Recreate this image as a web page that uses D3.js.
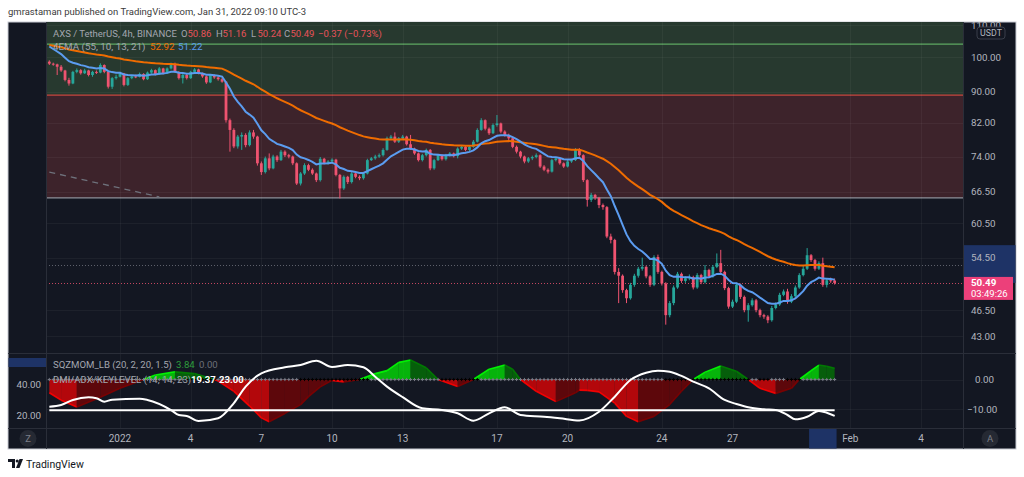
<!DOCTYPE html>
<html lang="en">
<head>
<meta charset="UTF-8">
<title>AXS / TetherUS 4h</title>
<script src="https://d3js.org/d3.v7.min.js"></script>
<style>
  body { margin: 0; background: #fff; }
  svg text { font-family: Roboto, "Noto Sans", sans-serif; }
</style>
</head>
<body>
<script>
// ---- data ----
const firstCandle = "2021-12-29T00:00:00Z";   // 4h candles from here
const firstOpen = 98.6;
const closes = [
  98.0, 97.8, 97.1, 96.0, 93.3, 92.3, 95.6, 96.1, 95.2, 96.0,
  94.7, 95.6, 95.4, 97.6, 95.6, 91.4, 93.8, 94.2, 95.2, 91.9,
  93.8, 94.3, 94.2, 95.0, 93.5, 95.4, 96.1, 94.9, 96.6, 95.2,
  96.6, 97.6, 95.6, 93.8, 94.7, 93.8, 95.6, 96.3, 95.2, 94.3,
  92.6, 94.7, 94.0, 93.5, 92.8, 82.6, 80.2, 76.3, 78.6, 79.0,
  76.6, 79.6, 78.6, 72.5, 70.6, 73.6, 71.4, 74.0, 73.2, 75.1,
  74.3, 74.0, 72.5, 68.2, 70.3, 72.1, 71.1, 70.3, 68.9, 73.5,
  72.6, 72.9, 73.3, 70.0, 67.2, 69.6, 68.5, 70.3, 69.6, 69.3,
  70.3, 73.2, 73.6, 74.0, 74.3, 75.5, 78.2, 78.6, 77.4, 78.2,
  78.6, 76.8, 75.8, 74.7, 73.2, 74.3, 75.5, 71.4, 73.2, 74.3,
  73.4, 74.3, 74.7, 74.1, 75.8, 76.2, 75.5, 76.2, 77.4, 80.2,
  82.6, 80.5, 79.4, 81.4, 81.8, 79.8, 79.0, 78.2, 76.2, 75.1,
  74.0, 72.9, 73.6, 73.9, 74.3, 71.8, 71.1, 70.7, 73.2, 73.6,
  72.5, 71.8, 72.9, 73.2, 75.5, 74.3, 68.9, 64.9, 65.9, 65.3,
  63.9, 63.5, 58.1, 57.5, 52.2, 51.6, 49.4, 48.2, 50.2, 51.6,
  52.7, 53.0, 51.5, 50.2, 54.6, 52.2, 50.4, 45.8, 47.5, 49.8,
  51.9, 50.8, 51.2, 51.4, 49.8, 51.7, 50.6, 52.5, 51.5, 53.0,
  53.6, 52.2, 49.7, 47.0, 47.7, 50.2, 48.4, 46.5, 47.2, 47.9,
  46.5, 45.8, 45.6, 45.1, 46.8, 47.3, 48.7, 49.2, 47.7, 48.5,
  49.8, 51.7, 52.7, 54.9, 54.1, 52.7, 53.6, 50.2, 50.9, 50.86,
  50.49
];
const highs = [
  99.0, 98.3, 98.0, 97.6, 96.2, 93.9, 95.9, 96.6, 96.4, 96.5,
  96.2, 95.9, 96.0, 98.1, 97.8, 95.9, 94.1, 94.8, 95.6, 95.3,
  94.1, 94.7, 94.8, 95.4, 95.2, 95.7, 96.5, 96.3, 97.0, 96.8,
  96.9, 98.3, 98.3, 95.8, 95.0, 95.0, 95.9, 96.7, 96.5, 95.4,
  94.5, 95.0, 94.9, 94.3, 93.9, 93.0, 83.0, 80.6, 79.0, 79.6,
  79.4, 80.1, 80.2, 78.8, 72.9, 74.0, 74.7, 74.4, 74.3, 75.5,
  75.4, 74.6, 74.2, 72.7, 70.6, 72.5, 72.4, 71.4, 70.5, 73.9,
  73.7, 73.2, 73.6, 73.5, 70.2, 69.9, 69.8, 70.6, 70.5, 69.9,
  70.6, 73.5, 73.9, 74.4, 74.7, 75.9, 78.6, 79.0, 79.6, 78.5,
  79.0, 78.8, 79.0, 76.0, 74.9, 74.6, 75.8, 75.7, 73.5, 74.6,
  74.5, 74.6, 75.0, 74.9, 76.1, 76.5, 76.4, 76.5, 77.8, 80.6,
  83.1, 82.8, 80.8, 81.8, 83.9, 82.0, 80.1, 79.3, 78.4, 76.5,
  75.3, 74.2, 73.9, 74.2, 74.7, 74.5, 72.1, 71.4, 73.5, 73.9,
  73.8, 72.7, 73.2, 73.5, 75.9, 75.9, 74.5, 69.1, 66.3, 66.1,
  65.5, 64.2, 63.7, 58.6, 57.7, 52.8, 51.8, 49.6, 50.5, 51.9,
  53.0, 54.5, 53.2, 51.7, 54.9, 55.0, 52.4, 50.6, 47.8, 50.1,
  52.2, 52.1, 51.5, 51.8, 51.6, 52.0, 51.9, 53.3, 52.7, 53.3,
  55.2, 55.8, 52.4, 49.9, 48.0, 50.5, 50.4, 48.6, 47.5, 48.2,
  48.1, 46.7, 46.0, 45.8, 47.1, 47.6, 49.0, 49.5, 49.6, 48.8,
  50.1, 52.0, 53.2, 56.1, 55.1, 54.3, 53.9, 54.5, 51.2, 51.3,
  51.16
];
const lows = [
  97.6, 97.4, 94.7, 95.6, 92.9, 91.7, 92.1, 95.2, 94.8, 95.0,
  94.3, 94.2, 95.0, 95.2, 95.2, 90.9, 90.8, 93.4, 94.0, 91.5,
  91.6, 93.5, 93.8, 94.0, 93.2, 93.3, 95.1, 94.6, 94.7, 94.9,
  95.0, 96.3, 95.3, 93.4, 92.3, 93.4, 93.6, 95.3, 94.9, 93.9,
  92.2, 92.4, 93.6, 93.1, 92.5, 82.0, 75.1, 75.9, 75.8, 75.5,
  76.1, 76.3, 78.1, 72.0, 70.0, 70.3, 71.0, 71.2, 72.8, 73.0,
  73.9, 73.6, 72.1, 67.9, 67.8, 70.0, 70.8, 70.0, 68.5, 68.6,
  72.3, 72.2, 72.6, 69.7, 65.2, 66.9, 68.1, 68.2, 69.3, 68.9,
  69.0, 70.1, 73.0, 73.3, 73.7, 74.0, 75.3, 77.9, 77.1, 77.1,
  77.9, 76.5, 75.5, 74.4, 72.9, 72.9, 74.0, 71.0, 71.1, 73.0,
  73.1, 73.1, 74.0, 73.8, 73.6, 75.5, 75.2, 75.2, 76.0, 77.2,
  80.0, 80.1, 79.0, 79.2, 81.0, 79.4, 78.6, 77.8, 75.9, 74.7,
  73.6, 72.5, 72.6, 73.2, 73.6, 71.5, 70.8, 70.3, 70.5, 72.9,
  72.2, 71.5, 71.6, 72.6, 73.0, 74.0, 68.5, 63.6, 64.5, 64.9,
  63.3, 63.0, 57.8, 56.9, 51.8, 47.5, 49.0, 47.5, 48.0, 49.9,
  51.3, 52.4, 51.2, 49.9, 50.0, 51.9, 50.1, 44.5, 45.5, 47.2,
  49.6, 50.5, 50.5, 50.9, 49.5, 49.6, 50.3, 50.4, 51.2, 51.3,
  52.8, 51.9, 49.4, 46.7, 46.8, 47.5, 48.1, 46.2, 44.9, 47.0,
  46.2, 45.5, 45.3, 44.7, 44.9, 46.6, 47.1, 48.5, 47.4, 47.5,
  48.3, 49.6, 51.5, 52.5, 53.8, 52.4, 52.5, 49.9, 49.8, 50.5,
  50.24
];

// EMA settings (slow orange, fast blue) and their starting values
const emaLengths = [55, 13];
const emaSeeds = [103.9, 104.1];
const emaParams = [55, 10, 13, 21];
const emaLegend = ["52.92", "51.22"];

// OHLC legend of the last bar
const ohlcLabels = ["O", "H", "L", "C"];
const ohlcValues = ["50.86", "51.16", "50.24", "50.49"];
const changeText = "\u22120.37 (\u22120.73%)";

// horizontal zones / levels
const zoneGreen = [125, 89.1];
const zoneRed = [89.1, 65.3];
const levelGreen = 104.0;
const levelGray = 65.3;
const dottedLevel = 53.3;
const trendIdx = [0, 28];
const trendPrice = [70.6, 65.5];
const axisHighlightPrice = [56.6, 50.49];
const axisHighlightIdx = [193.5, 200.5];
const countdown = "03:49:26";

// price axis
const priceTicks = [110, 100, 90, 82, 74, 66.5, 60.5, 54.5, 46.5, 43];

// time axis
const xTickDates = ["2022-01-01", "2022-01-04", "2022-01-07", "2022-01-10", "2022-01-13",
  "2022-01-17", "2022-01-20", "2022-01-24", "2022-01-27", "2022-02-01", "2022-02-04"];
const xTickLabels = ["2022", "4", "7", "10", "13", "17", "20", "24", "27", "Feb", "4"];

// SQZMOM momentum (candle index, value)
const momIdx = [0, 3, 7, 13, 18, 23, 24, 27, 32, 37, 42, 43, 47, 51, 54, 56, 60, 64, 66, 69,
  72, 75, 79, 83, 86, 89, 92, 96, 99, 104, 108, 112, 116, 118, 120, 124, 129, 134, 135, 137,
  140, 144, 147, 150, 154, 158, 161, 164, 167, 171, 175, 178, 181, 185, 189, 191, 194, 196, 198, 200];
const momVal = [-4.5, -7, -9.3, -6, -3, -0.5, 0, 1.5, 2.6, 2.0, 0, -0.5, -4, -9, -13, -14.3, -11.5, -8.5, -5.8, -2.5,
  -0.3, -0.8, 0, 2.0, 3.0, 5.8, 6.6, 4, 0, -2.4, 0, 3.5, 4.9, 3.5, 0, -4, -7.5, -4.5, -3.6, -3.7,
  -4.2, -8, -12.5, -14.3, -12.5, -8.5, -4, 0, 2.5, 4.6, 2.8, 0, -3, -4.7, -3, 0, 3, 4.9, 4.5, 3.84];
// candle index ranges where squeeze is on (black crosses)
const squeezeOn = [[35, 42], [64, 81], [100, 109], [157, 178], [181, 183], [188, 191]];
const sqzLegend = ["3.84", "0.00"];

// DMI/ADX (candle index, value)
const adxIdx = [0, 3, 6, 10, 12, 14, 16, 23, 25, 31, 33, 35, 38, 43, 47, 50, 54, 60, 64, 68,
  72, 76, 80, 83, 86, 90, 95, 100, 104, 108, 112, 116, 120, 126, 130, 135, 140, 144, 148, 152,
  155, 158, 161, 164, 168, 172, 175, 178, 182, 185, 188, 190, 193, 196, 198, 200];
const adxVal = [25.4, 26.5, 29.7, 31.4, 30.8, 28.6, 29.9, 30.5, 29.7, 23.2, 20, 19.4, 16.1, 17.9, 27.7, 38.3, 46.9, 50.8, 52.3, 55.0,
  51.0, 52.3, 50.8, 44.7, 38.3, 31.5, 24.3, 23.2, 21.1, 16.3, 21.1, 25.0, 20, 18.9, 17.9, 16.5, 22.1, 31.8, 42.6, 47.3,
  48.6, 47.9, 45.2, 41.5, 37.2, 29.7, 27.1, 25, 23.7, 23.2, 20, 17.2, 18.9, 22.6, 21.5, 19.37];
const keyLevel = 23;
const dmiLegend = ["19.37", "23.00"];

// ---- layout ----
const W = 1024, H = 477;
const boxL = 8, boxR = 1016, boxT = 22, boxB = 449;
const plotL = 46, plotR = 963;
const mainB = 353, indT = 354, indB = 428;

const C = {
  bg: "#131722", sep: "#2a2e39", text: "#b2b5be",
  up: "#26a69a", down: "#ef5370", orange: "#ef6c00", blue: "#5b9cf0",
  zoneG: "#27392f", zoneR: "#3d232b"
};

const t0 = new Date(firstCandle).getTime();
const H4 = 4 * 3600 * 1000;
const timeAt = i => new Date(t0 + i * H4);

const candles = closes.map((c, i) => ({
  i, t: timeAt(i), o: i ? closes[i - 1] : firstOpen, h: highs[i], l: lows[i], c
}));

const x = d3.scaleUtc()
  .domain([new Date("2022-01-01T00:00:00Z"), new Date("2022-02-04T00:00:00Z")])
  .range([120, 921]);
const xi = i => x(timeAt(i));
const y = d3.scaleLog().domain([100, 43]).range([57, 336]);
const yMom = d3.scaleLinear().domain([0, -10]).range([379.5, 409]);
const yAdx = d3.scaleLinear().domain([40, 20]).range([384, 415]);
const f2 = d3.format(".2f");

const ema = (vals, len, seed) => {
  const a = 2 / (len + 1);
  let e = seed;
  return vals.map(v => (e = e + a * (v - e)));
};
const emaSlow = ema(closes, emaLengths[0], emaSeeds[0]);
const emaFast = ema(closes, emaLengths[1], emaSeeds[1]);

const svg = d3.select("body").append("svg").attr("width", W).attr("height", H);

svg.append("text").attr("x", 8).attr("y", 15)
  .attr("font-size", 9.5).attr("fill", "#3b3b3b")
  .text("gmrastaman published on TradingView.com, Jan 31, 2022 09:10 UTC-3");

svg.append("rect").attr("x", boxL).attr("y", boxT)
  .attr("width", boxR - boxL).attr("height", boxB - boxT)
  .attr("fill", C.bg).attr("stroke", "#c9ccd3").attr("stroke-width", 1);

const defs = svg.append("defs");
defs.append("clipPath").attr("id", "clipMain").append("rect")
  .attr("x", plotL).attr("y", boxT).attr("width", plotR - plotL).attr("height", mainB - boxT);
defs.append("clipPath").attr("id", "clipInd").append("rect")
  .attr("x", plotL).attr("y", indT).attr("width", plotR - plotL).attr("height", indB - indT);
defs.append("clipPath").attr("id", "clipAxis").append("rect")
  .attr("x", plotR).attr("y", boxT).attr("width", boxR - plotR).attr("height", mainB - boxT);

// ---- main pane ----
const main = svg.append("g").attr("clip-path", "url(#clipMain)");

main.append("rect").attr("x", plotL).attr("width", plotR - plotL)
  .attr("y", y(zoneGreen[0])).attr("height", y(zoneGreen[1]) - y(zoneGreen[0]))
  .attr("fill", C.zoneG);
main.append("rect").attr("x", plotL).attr("width", plotR - plotL)
  .attr("y", y(zoneRed[0])).attr("height", y(zoneRed[1]) - y(zoneRed[0]))
  .attr("fill", C.zoneR);

// grid
main.selectAll("line.hg").data(priceTicks).join("line")
  .attr("x1", plotL).attr("x2", plotR)
  .attr("y1", d => Math.round(y(d)) + 0.5).attr("y2", d => Math.round(y(d)) + 0.5)
  .attr("stroke", "#ffffff").attr("stroke-opacity", 0.045);
const tickDates = xTickDates.map(d => new Date(d + "T00:00:00Z"));
svg.selectAll("line.vg").data(tickDates).join("line")
  .attr("x1", d => Math.round(x(d)) + 0.5).attr("x2", d => Math.round(x(d)) + 0.5)
  .attr("y1", boxT).attr("y2", indB)
  .attr("stroke", "#ffffff").attr("stroke-opacity", 0.045);

// levels
main.append("line").attr("x1", plotL).attr("x2", plotR)
  .attr("y1", y(levelGreen)).attr("y2", y(levelGreen))
  .attr("stroke", "#5ea862").attr("stroke-width", 1.2);
main.append("line").attr("x1", plotL).attr("x2", plotR)
  .attr("y1", y(zoneRed[0])).attr("y2", y(zoneRed[0]))
  .attr("stroke", "#c9463f").attr("stroke-width", 1.2);
main.append("line").attr("x1", plotL).attr("x2", plotR)
  .attr("y1", y(levelGray)).attr("y2", y(levelGray))
  .attr("stroke", "#8e919a").attr("stroke-width", 1.2);
main.append("line")
  .attr("x1", xi(trendIdx[0])).attr("y1", y(trendPrice[0]))
  .attr("x2", xi(trendIdx[1])).attr("y2", y(trendPrice[1]))
  .attr("stroke", "#6e717b").attr("stroke-width", 1.3).attr("stroke-dasharray", "6 5");
main.append("line").attr("x1", plotL).attr("x2", plotR)
  .attr("y1", Math.round(y(dottedLevel)) + 0.5).attr("y2", Math.round(y(dottedLevel)) + 0.5)
  .attr("stroke", "#5d606b").attr("stroke-dasharray", "1 2");
const last = closes[closes.length - 1];
main.append("line").attr("x1", plotL).attr("x2", plotR)
  .attr("y1", Math.round(y(last)) + 0.5).attr("y2", Math.round(y(last)) + 0.5)
  .attr("stroke", C.down).attr("stroke-opacity", 0.8).attr("stroke-dasharray", "1 2");

// candles
const cg = main.append("g").selectAll("g").data(candles).join("g");
cg.append("line")
  .attr("x1", d => xi(d.i)).attr("x2", d => xi(d.i))
  .attr("y1", d => y(Math.max(d.h, d.o, d.c))).attr("y2", d => y(Math.min(d.l, d.o, d.c)))
  .attr("stroke", d => d.c >= d.o ? C.up : C.down).attr("stroke-width", 1);
cg.append("rect")
  .attr("x", d => xi(d.i) - 1.4).attr("width", 2.8)
  .attr("y", d => y(Math.max(d.o, d.c)))
  .attr("height", d => Math.max(1, Math.abs(y(d.o) - y(d.c))))
  .attr("fill", d => d.c >= d.o ? C.up : C.down);

// EMAs
const emaLine = vals => d3.line().x((d, i) => xi(i)).y(d => y(d))(vals);
main.append("path").attr("d", emaLine(emaSlow))
  .attr("fill", "none").attr("stroke", C.orange).attr("stroke-width", 2);
main.append("path").attr("d", emaLine(emaFast))
  .attr("fill", "none").attr("stroke", C.blue).attr("stroke-width", 2);

// ---- indicator pane ----
const ind = svg.append("g").attr("clip-path", "url(#clipInd)");
ind.selectAll("line.ig").data([0, -10]).join("line")
  .attr("x1", plotL).attr("x2", plotR)
  .attr("y1", d => Math.round(yMom(d)) + 0.5).attr("y2", d => Math.round(yMom(d)) + 0.5)
  .attr("stroke", "#ffffff").attr("stroke-opacity", 0.045);

const segs = d3.pairs(momIdx.map((t, k) => ({ t, v: momVal[k] })));
const segColor = ([a, b]) => {
  const pos = (a.v + b.v) / 2 >= 0;
  if (pos) return b.v >= a.v ? "#00ff00" : "#008000";
  return b.v <= a.v ? "#ff0000" : "#800000";
};
ind.selectAll("path.mom").data(segs).join("path")
  .attr("d", ([a, b]) => `M${xi(a.t)},${yMom(0)}L${xi(a.t)},${yMom(a.v)}L${xi(b.t)},${yMom(b.v)}L${xi(b.t)},${yMom(0)}Z`)
  .attr("fill", segColor).attr("fill-opacity", 0.68);
ind.selectAll("line.momedge").data(segs).join("line")
  .attr("x1", ([a]) => xi(a.t)).attr("y1", ([a]) => yMom(a.v))
  .attr("x2", ([, b]) => xi(b.t)).attr("y2", ([, b]) => yMom(b.v))
  .attr("stroke", segColor).attr("stroke-width", 1.6).attr("stroke-opacity", 0.9);

// squeeze crosses on the zero line
const inSqueeze = i => squeezeOn.some(([a, b]) => i >= a && i <= b);
const sq = ind.append("g");
candles.forEach(d => {
  const cx = xi(d.i), cy = yMom(0);
  const col = inSqueeze(d.i) ? "#000000" : "#787b86";
  sq.append("path").attr("d", `M${cx - 1.6},${cy}H${cx + 1.6}M${cx},${cy - 1.6}V${cy + 1.6}`)
    .attr("stroke", col).attr("stroke-width", 1);
});

// ADX + key level
ind.append("line").attr("x1", xi(0)).attr("x2", xi(closes.length - 1))
  .attr("y1", yAdx(keyLevel)).attr("y2", yAdx(keyLevel))
  .attr("stroke", "#ffffff").attr("stroke-width", 2);
ind.append("path")
  .attr("d", d3.line().curve(d3.curveMonotoneX)
    .x((d, k) => xi(adxIdx[k])).y(d => yAdx(d))(adxVal))
  .attr("fill", "none").attr("stroke", "#ffffff").attr("stroke-width", 2);

// ---- separators ----
const sep = (x1, y1, x2, y2) => svg.append("line")
  .attr("x1", x1).attr("y1", y1).attr("x2", x2).attr("y2", y2)
  .attr("stroke", C.sep).attr("stroke-width", 1);
sep(boxL, mainB + 0.5, boxR, mainB + 0.5);
sep(boxL, indB + 0.5, boxR, indB + 0.5);
sep(plotL + 0.5, boxT, plotL + 0.5, boxB);
sep(plotR + 0.5, boxT, plotR + 0.5, boxB);

// ---- price axis ----
svg.append("rect").attr("x", plotR + 1).attr("width", boxR - plotR - 1.5)
  .attr("y", y(axisHighlightPrice[0])).attr("height", y(axisHighlightPrice[1]) - y(axisHighlightPrice[0]))
  .attr("fill", "#1e3366");
const pa = svg.append("g").attr("clip-path", "url(#clipAxis)");
pa.selectAll("text").data(priceTicks).join("text")
  .attr("x", 971).attr("y", d => y(d) + 3.5)
  .attr("font-size", 9.8).attr("fill", C.text)
  .text(d => f2(d));
svg.append("rect").attr("x", 977).attr("y", 27).attr("width", 28).attr("height", 12).attr("rx", 3)
  .attr("fill", C.bg).attr("stroke", "#3a3e4a");
svg.append("text").attr("x", 991).attr("y", 36).attr("text-anchor", "middle")
  .attr("font-size", 8.8).attr("fill", C.text).text("USDT");

svg.append("rect").attr("x", plotR + 1).attr("y", y(last) - 6).attr("width", 49).attr("height", 23)
  .attr("fill", "#ec407a");
svg.append("text").attr("x", 971).attr("y", y(last) + 3.5).attr("font-size", 9.8)
  .attr("font-weight", "bold").attr("fill", "#fff").text(f2(last));
svg.append("text").attr("x", 971).attr("y", y(last) + 14.5).attr("font-size", 9.5)
  .attr("fill", "#fff").text(countdown);

// indicator axes
svg.selectAll("text.rm").data([0, -10]).join("text")
  .attr("x", d => d === 0 ? 975 : 967).attr("y", d => yMom(d) + 3.5)
  .attr("font-size", 9.8).attr("fill", C.text).text(d => f2(d));
svg.append("rect").attr("x", boxL + 0.5).attr("y", 358).attr("width", plotL - boxL - 0.5).attr("height", 9)
  .attr("fill", "#1e3366");
svg.selectAll("text.la").data([40, 20]).join("text")
  .attr("x", 41).attr("y", d => yAdx(d) + 3.5).attr("text-anchor", "end")
  .attr("font-size", 9.8).attr("fill", C.text).text(d => f2(d));

// ---- time axis ----
svg.append("rect").attr("x", xi(axisHighlightIdx[0])).attr("y", indB + 1)
  .attr("width", xi(axisHighlightIdx[1]) - xi(axisHighlightIdx[0])).attr("height", boxB - indB - 1.5)
  .attr("fill", "#1e3366");
svg.selectAll("text.xt").data(tickDates).join("text")
  .attr("x", d => x(d)).attr("y", 441.5).attr("text-anchor", "middle")
  .attr("font-size", 10).attr("fill", C.text)
  .text((d, k) => xTickLabels[k]);

[[28, "Z"], [990, "A"]].forEach(([cx, s]) => {
  svg.append("circle").attr("cx", cx).attr("cy", 438.5).attr("r", 8.5).attr("fill", "#252933");
  svg.append("text").attr("x", cx).attr("y", 442).attr("text-anchor", "middle")
    .attr("font-size", 9.5).attr("fill", "#7c7f88").text(s);
});

// ---- legends ----
const G = "#a3a6af", RD = "#e8525a";
const legend = (yy, size, parts) => parts.forEach(([xx, s, col, bold]) =>
  svg.append("text").attr("x", xx).attr("y", yy).attr("font-size", size)
    .attr("fill", col).attr("font-weight", bold ? "bold" : null).text(s));

const ohlcX = [181, 216, 251, 284];
const ohlcParts = [[53, "AXS / TetherUS, 4h, BINANCE", G]];
ohlcLabels.forEach((lab, k) => {
  ohlcParts.push([ohlcX[k], lab, G]);
  ohlcParts.push([ohlcX[k] + 6.5, ohlcValues[k], RD]);
});
ohlcParts.push([318, changeText, RD]);
legend(36.5, 9.5, ohlcParts);
legend(49.5, 9.8, [[53, `4EMA (${emaParams.join(", ")})`, G], [150, emaLegend[0], C.orange], [178, emaLegend[1], C.blue]]);
legend(368, 9.6, [[53, "SQZMOM_LB (20, 2, 20, 1.5)", G], [176, sqzLegend[0], "#2e9e3c"], [199, sqzLegend[1], "#6d7079"]]);
legend(383, 9.6, [[53, "DMI/ADX/KEYLEVEL (14, 14, 23)", G], [191, dmiLegend[0], "#ffffff", true], [219, dmiLegend[1], "#ffffff", true]]);

// ---- footer logo ----
const logo = svg.append("g").attr("fill", "#131722");
logo.append("path").attr("d", "M8,459H15V468H12V462H8Z");
logo.append("circle").attr("cx", 17.2).attr("cy", 461).attr("r", 1.6);
logo.append("path").attr("d", "M19.5,459H23L19.5,468H16Z");
svg.append("text").attr("x", 26).attr("y", 467.5).attr("font-size", 10.5).attr("fill", "#131722")
  .text("TradingView");
</script>
</body>
</html>
